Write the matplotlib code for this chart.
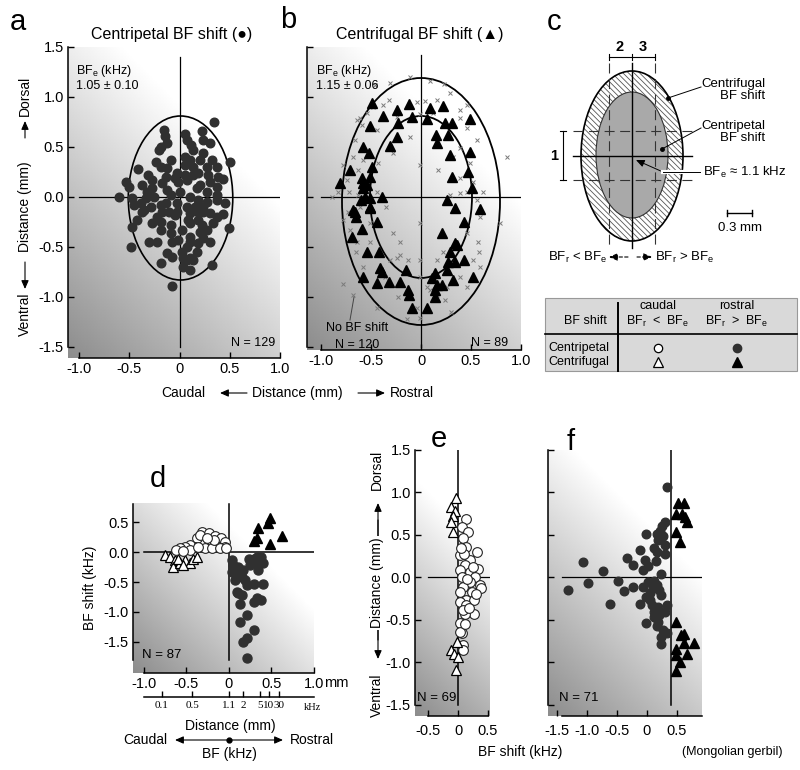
import numpy as np
import matplotlib
matplotlib.use('Agg')
import matplotlib.pyplot as plt
from matplotlib.patches import Ellipse, Rectangle

plt.rcParams['font.family'] = ['Liberation Sans', 'DejaVu Sans']
plt.rcParams['axes.unicode_minus'] = False
plt.rcParams['hatch.linewidth'] = 0.6

W, H = 800, 770

# ---------------- data ----------------
# a: centripetal shift, filled circles (x = rostro-caudal mm, y = dorso-ventral mm)
a_pts = [(0.34, 0.75), (-0.15, 0.67), (-0.14, 0.61), (0.05, 0.63), (0.22, 0.66), (0.07, 0.57), (0.11, 0.52),
         (0.23, 0.57), (0.30, 0.54), (-0.18, 0.50), (-0.20, 0.47), (-0.12, 0.54), (0.23, 0.44), (0.20, 0.37),
         (0.10, 0.37), (-0.23, 0.35), (-0.08, 0.37), (-0.41, 0.28), (-0.31, 0.22), (-0.18, 0.30), (-0.12, 0.29),
         (0.05, 0.32), (0.13, 0.30), (0.27, 0.30), (0.37, 0.30), (0.50, 0.35), (-0.03, 0.24), (-0.05, 0.19),
         (0.05, 0.22), (0.13, 0.22), (0.28, 0.22), (0.43, 0.18), (-0.53, 0.15), (-0.37, 0.12), (-0.17, 0.14),
         (-0.02, 0.15), (0.07, 0.17), (0.20, 0.12), (0.30, 0.15), (-0.27, 0.09), (-0.12, 0.07), (-0.08, 0.02),
         (0.17, 0.09), (0.27, 0.05), (0.37, 0.02), (0.37, 0.10), (-0.60, 0.00), (-0.47, -0.01), (-0.33, -0.01),
         (-0.25, 0.00), (0.10, 0.00), (0.18, -0.03), (0.27, -0.05), (-0.45, -0.08), (-0.35, -0.13), (-0.28, -0.10),
         (-0.18, -0.08), (-0.03, -0.06), (0.07, -0.10), (0.15, -0.10), (0.23, -0.10), (0.37, -0.03), (-0.37, -0.15),
         (-0.10, -0.15), (-0.05, -0.18), (0.10, -0.16), (0.18, -0.15), (0.30, -0.16), (0.43, -0.17), (-0.42, -0.23),
         (0.08, -0.23), (0.18, -0.23), (0.22, -0.28), (0.33, -0.26), (-0.47, -0.30), (-0.27, -0.26), (-0.18, -0.25),
         (-0.08, -0.28), (0.02, -0.33), (0.10, -0.26), (0.49, -0.31), (-0.18, -0.33), (-0.08, -0.36), (0.20, -0.35),
         (0.23, -0.41), (0.10, -0.40), (-0.07, -0.45), (-0.30, -0.45), (-0.22, -0.45), (0.10, -0.45), (0.18, -0.46),
         (0.30, -0.45), (-0.48, -0.50), (0.17, -0.55), (0.02, -0.55), (-0.12, -0.56), (-0.07, -0.60), (0.03, -0.61),
         (0.07, -0.63), (0.10, -0.61), (-0.18, -0.66), (0.03, -0.70), (0.10, -0.73), (0.32, -0.68), (-0.07, -0.89),
         (-0.50, 0.10), (-0.22, -0.20), (0.00, 0.05), (0.13, 0.47), (-0.13, -0.06), (0.27, -0.33), (0.37, -0.20),
         (-0.02, -0.43), (0.07, -0.50), (-0.13, 0.20), (-0.27, 0.17), (0.18, 0.24), (0.32, 0.37), (-0.03, -0.15),
         (0.13, -0.63), (0.23, -0.15), (-0.17, -0.15), (-0.38, -0.06), (-0.32, 0.05), (0.45, -0.06), (0.05, 0.40),
         (0.38, 0.20)]
a_ellipse = (0.01, -0.01, 1.04, 1.64)   # centre x, centre y, width, height

# b: centrifugal shift, filled triangles, and sites with no shift (crosses)
b_tri = [(-0.12, 0.93), (-0.24, 0.87), (-0.38, 0.81), (-0.49, 0.94), (-0.51, 0.71), (-0.23, 0.74), (-0.09, 0.80),
         (0.06, 0.78), (0.09, 0.89), (0.22, 0.91), (0.24, 0.74), (0.31, 0.74), (0.49, 0.78), (0.15, 0.62),
         (0.16, 0.54), (0.27, 0.62), (-0.24, 0.60), (-0.31, 0.51), (-0.58, 0.50), (-0.52, 0.44), (0.29, 0.42),
         (0.49, 0.45), (-0.71, 0.27), (-0.49, 0.30), (-0.59, 0.19), (-0.51, 0.20), (0.31, 0.20), (0.47, 0.25),
         (-0.81, 0.14), (-0.58, 0.09), (-0.54, 0.12), (0.51, 0.09), (-0.60, -0.03), (-0.56, 0.00), (-0.51, -0.01),
         (-0.39, 0.00), (0.26, -0.03), (0.34, -0.11), (0.59, -0.12), (-0.68, -0.13), (-0.51, -0.11), (-0.65, -0.20),
         (-0.44, -0.25), (0.43, -0.25), (-0.59, -0.32), (-0.69, -0.40), (0.21, -0.36), (0.34, -0.46), (0.29, -0.55),
         (0.36, -0.48), (-0.54, -0.55), (-0.42, -0.55), (0.43, -0.63), (0.27, -0.65), (0.34, -0.65), (0.26, -0.73),
         (-0.41, -0.71), (-0.39, -0.75), (-0.15, -0.73), (-0.58, -0.80), (-0.44, -0.86), (-0.32, -0.85),
         (-0.21, -0.85), (0.14, -0.76), (0.11, -0.81), (0.16, -0.88), (0.21, -0.88), (0.32, -0.83), (0.52, -0.80),
         (-0.13, -0.93), (0.14, -0.93), (-0.12, -0.98), (0.14, -1.00), (-0.09, -1.11), (0.06, -1.11), (-0.58, 0.14),
         (-0.66, -0.15), (-0.51, -0.10)]
b_none = [(-0.11, 1.20), (0.09, 1.16), (0.23, 1.13), (-0.31, 1.14), (-0.38, 0.92), (-0.32, 0.97), (-0.04, 0.95),
          (0.04, 0.96), (0.16, 0.97), (-0.01, 0.83), (0.12, 0.84), (0.39, 0.87), (0.46, 0.92), (0.46, 0.69),
          (0.56, 0.57), (0.39, 0.49), (0.32, 0.40), (0.86, 0.40), (-0.64, 0.77), (-0.59, 0.72), (-0.44, 0.67),
          (-0.66, 0.57), (-0.68, 0.40), (-0.58, 0.37), (-0.43, 0.34), (-0.28, 0.44), (-0.01, 0.32), (0.17, 0.27),
          (0.39, 0.19), (0.52, 0.15), (-0.78, 0.32), (-0.74, 0.17), (-0.89, 0.00), (-0.72, 0.05), (-0.63, 0.02),
          (-0.44, 0.05), (-0.61, -0.10), (-0.35, -0.10), (0.29, 0.02), (0.39, 0.04), (0.46, 0.05), (0.56, -0.03),
          (0.79, -0.26), (-0.01, -0.26), (-0.71, -0.33), (-0.51, -0.26), (-0.28, -0.36), (-0.64, -0.45),
          (-0.65, -0.55), (-0.51, -0.45), (0.57, -0.45), (0.46, -0.36), (-0.24, -0.61), (-0.31, -0.63),
          (-0.21, -0.58), (-0.13, -0.63), (0.16, -0.63), (0.22, -0.55), (0.52, -0.63), (0.58, -0.55), (-0.36, -0.80),
          (-0.01, -0.80), (0.06, -0.90), (0.26, -0.90), (0.09, -0.93), (0.46, -0.90), (-0.68, -0.98), (-0.78, -0.87),
          (-0.23, -1.00), (-0.04, -1.11), (-0.44, -1.11), (-0.14, -1.22), (0.24, -1.03), (-0.01, -1.21),
          (0.39, -0.80), (-0.58, -0.70), (-0.73, -0.15), (-0.78, -0.23), (-0.21, -0.45), (-0.01, -0.63),
          (-0.83, 0.05), (-0.54, 0.84), (-0.48, 0.90), (0.29, 1.04), (0.39, 0.79), (0.49, 0.34), (-0.63, 0.27),
          (0.59, -0.20), (0.62, 0.05), (-0.11, 0.60), (-0.24, 0.80), (0.16, -0.98), (-0.46, 1.12), (-0.61, 0.79),
          (0.59, -0.70), (0.30, -1.15)]
b_outer = (0.0, -0.045, 1.58, 2.47)
b_inner = (0.0, 0.0, 1.02, 1.62)

# d: BF shift (kHz) against rostro-caudal distance (mm)
d_open_circ = [(-0.32, 0.34), (-0.24, 0.31), (-0.16, 0.26), (-0.09, 0.23), (-0.05, 0.17), (-0.05, 0.09),
               (-0.13, 0.09), (-0.22, 0.14), (-0.30, 0.17), (-0.38, 0.23), (-0.34, 0.28), (-0.40, 0.09),
               (-0.46, 0.12), (-0.52, 0.09), (-0.58, 0.06), (-0.62, 0.03), (-0.28, 0.06), (-0.20, 0.06),
               (-0.11, 0.06), (-0.03, 0.06), (-0.18, 0.20), (-0.26, 0.23), (-0.46, 0.03), (-0.54, 0.01),
               (-0.36, 0.09)]
d_open_tri = [(-0.75, -0.05), (-0.69, -0.08), (-0.64, -0.13), (-0.66, -0.25), (-0.58, -0.19), (-0.52, -0.13),
              (-0.46, -0.19), (-0.42, -0.11), (-0.38, -0.08), (-0.60, -0.11), (-0.54, -0.22)]
d_fill_tri = [(0.48, 0.56), (0.46, 0.48), (0.34, 0.40), (0.33, 0.23), (0.29, 0.18), (0.62, 0.27), (0.48, 0.13)]
d_fill_circ = [(0.03, -0.13), (0.05, -0.22), (0.11, -0.25), (0.03, -0.33), (0.10, -0.33), (0.17, -0.30),
               (0.23, -0.11), (0.29, -0.12), (0.33, -0.08), (0.38, -0.08), (0.40, -0.19), (0.34, -0.19),
               (0.34, -0.30), (0.15, -0.41), (0.19, -0.47), (0.07, -0.47), (0.21, -0.55), (0.29, -0.54),
               (0.40, -0.54), (0.11, -0.69), (0.15, -0.72), (0.13, -0.86), (0.33, -0.77), (0.38, -0.80),
               (0.29, -0.83), (0.21, -1.05), (0.13, -1.16), (0.29, -1.30), (0.21, -1.43), (0.17, -1.50),
               (0.21, -1.76), (0.09, -0.66), (0.25, -0.22)]
khz_labels = ['0.1', '0.5', '1.1', '2', '5', '10', '30']
khz_pos_mm = [-0.79, -0.435, 0.0, 0.165, 0.365, 0.47, 0.59]

# e: BF shift (kHz) against dorso-ventral distance (mm)
e_open_tri = [(-0.04, 0.94), (-0.12, 0.83), (-0.05, 0.78), (-0.08, 0.72), (-0.11, 0.65), (-0.08, 0.53),
              (-0.01, -0.76), (-0.11, -0.86), (-0.06, -0.90), (0.00, -0.94), (-0.04, -1.09)]
e_open_circ = [(0.14, 0.69), (0.06, 0.59), (0.17, 0.53), (0.09, 0.46), (0.14, 0.36), (0.03, 0.26), (0.31, 0.30),
               (0.20, 0.20), (0.12, 0.14), (0.34, 0.10), (0.03, 0.08), (0.20, 0.06), (0.28, 0.00), (0.06, 0.00),
               (0.37, -0.09), (0.20, -0.06), (0.09, -0.11), (0.39, -0.13), (0.03, -0.17), (0.23, -0.17),
               (0.14, -0.27), (0.03, -0.29), (0.26, -0.27), (0.14, -0.33), (0.26, -0.43), (0.12, -0.43),
               (0.03, -0.54), (0.06, -0.66), (0.09, -0.80), (0.09, -0.86), (0.03, -0.64), (0.10, 0.28),
               (0.25, 0.12), (0.15, -0.02), (0.30, -0.20), (0.08, -0.38), (0.18, -0.36), (0.05, 0.35), (0.12, -0.55)]

# f: Mongolian gerbil
f_fill_circ = [(0.34, 1.06), (0.30, 0.65), (-0.01, 0.51), (0.22, 0.55), (0.17, 0.51), (0.27, 0.49), (0.19, 0.44),
               (0.30, 0.38), (-0.12, 0.32), (0.11, 0.34), (0.16, 0.30), (0.30, 0.28), (-0.34, 0.23), (-0.23, 0.15),
               (-0.03, 0.20), (0.15, 0.19), (-1.06, 0.18), (-0.06, 0.08), (0.02, 0.13), (-0.73, 0.07), (0.24, 0.04),
               (-0.48, -0.04), (-0.98, -0.07), (-1.31, -0.15), (-0.39, -0.16), (-0.23, -0.11), (-0.07, -0.11),
               (0.02, -0.06), (0.11, -0.04), (0.17, -0.09), (0.05, -0.19), (0.24, -0.21), (-0.62, -0.31),
               (-0.12, -0.31), (0.05, -0.27), (0.33, -0.33), (0.19, -0.35), (0.11, -0.41), (0.30, -0.41),
               (-0.01, -0.54), (0.19, -0.53), (0.16, -0.58), (0.27, -0.62), (0.33, -0.66), (0.24, -0.70),
               (0.24, -0.79), (0.11, -0.47), (-0.01, -0.23), (0.25, 0.60), (0.10, -0.13), (0.20, -0.15),
               (0.08, -0.33), (0.20, -0.45)]
f_fill_tri = [(0.52, 0.87), (0.61, 0.87), (0.49, 0.75), (0.58, 0.74), (0.63, 0.71), (0.66, 0.65), (0.49, 0.53),
              (0.55, 0.42), (0.48, -0.53), (0.56, -0.68), (0.61, -0.78), (0.78, -0.78), (0.48, -0.84), (0.67, -0.90),
              (0.49, -0.92), (0.55, -1.00), (0.48, -1.11), (0.62, -0.67)]
f_ref_x = 0.4

DARK = '#303030'
fig = plt.figure(figsize=(W / 100, H / 100), dpi=100)


def shade(ax, wpx, hpx, dark=0.55, d0=0.3):
    # grey wash: dark at lower left, white towards upper right
    u = np.linspace(0, 1, 200)
    v = np.linspace(1, 0, 200)
    U, V = np.meshgrid(u, v)
    d = ((1 - U) * wpx + (1 - V) * hpx) / (wpx + hpx)
    t = np.clip((d - d0) / (1 - d0), 0, 1)
    ax.imshow(1 - (1 - dark) * t, cmap='gray', vmin=0, vmax=1, extent=(0, 1, 0, 1),
              transform=ax.transAxes, aspect='auto', zorder=0, interpolation='bilinear')


def panel(box, xlim, ylim, xbounds, ybounds, xticks, xlabels, yticks, ylabels, xpad=3):
    l, t, r, b = box
    ax = fig.add_axes([l / W, 1 - b / H, (r - l) / W, (b - t) / H])
    shade(ax, r - l, b - t)
    ax.set_xlim(xlim)
    ax.set_ylim(ylim)
    ax.spines['top'].set_visible(False)
    ax.spines['right'].set_visible(False)
    ax.spines['left'].set_bounds(*ybounds)
    ax.spines['bottom'].set_bounds(*xbounds)
    for s in ['left', 'bottom']:
        ax.spines[s].set_linewidth(1.1)
    ax.set_xticks(xticks)
    ax.set_xticklabels(xlabels)
    ax.set_yticks(yticks)
    ax.set_yticklabels(ylabels)
    ax.tick_params(direction='in', length=4, width=1, labelsize=10.5, pad=3)
    ax.tick_params(axis='x', pad=xpad)
    return ax


def pts(p):
    arr = np.array(p)
    return arr[:, 0], arr[:, 1]


ylab15 = ['-1.5', '-1.0', '-0.5', '0.0', '0.5', '1.0', '1.5']
yt15 = [-1.5, -1.0, -0.5, 0.0, 0.5, 1.0, 1.5]
xt1 = [-1.0, -0.5, 0.0, 0.5, 1.0]
xl1 = ['-1.0', '-0.5', '0', '0.5', '1.0']

# ---- panel a ----
ax_a = panel((68, 47, 280, 358), (-1.11, 1.0), (-1.61, 1.5), (-1, 1), (-1.5, 1.5), xt1, xl1, yt15, ylab15)
ax_a.plot([0, 0], [-1.5, 1.4], color='k', lw=0.9, zorder=1)
ax_a.plot([-1.0, 1.0], [0, 0], color='k', lw=0.9, zorder=1)
ax_a.add_patch(Ellipse(a_ellipse[:2], a_ellipse[2], a_ellipse[3], fill=False, ec='k', lw=1.2, zorder=2))
x, y = pts(a_pts)
ax_a.plot(x, y, 'o', ms=6.2, mfc=DARK, mec=DARK, zorder=3)

# ---- panel b ----
ax_b = panel((307, 47, 521, 350), (-1.14, 1.0), (-1.53, 1.5), (-1, 1), (-1.5, 1.5), xt1, xl1, yt15, [''] * 7)
ax_b.plot([0, 0], [-1.5, 1.42], color='k', lw=0.9, zorder=1)
ax_b.plot([-1.0, 1.0], [0, 0], color='k', lw=0.9, zorder=1)
ax_b.add_patch(Ellipse(b_outer[:2], b_outer[2], b_outer[3], fill=False, ec='k', lw=1.3, zorder=2))
ax_b.add_patch(Ellipse(b_inner[:2], b_inner[2], b_inner[3], fill=False, ec='k', lw=1.3, zorder=2))
x, y = pts(b_none)
ax_b.plot(x, y, 'x', ms=3.5, mew=0.7, color='#7a7a7a', zorder=3)
x, y = pts(b_tri)
ax_b.plot(x, y, '^', ms=7, mfc='k', mec='k', zorder=4)
ax_b.plot([-0.71, -0.67], [-1.23, -1.0], color='#444444', lw=0.7, zorder=3)

# ---- panel d ----
ax_d = panel((133, 503, 314, 673), (-1.129, 1.0), (-2.017, 0.817), (-1, 1), (-1.8, 0.8), xt1, xl1,
             [-1.5, -1.0, -0.5, 0.0, 0.5], ['-1.5', '-1.0', '-0.5', '0.0', '0.5'])
ax_d.plot([-1.0, 1.0], [0, 0], color='k', lw=1.1, zorder=1)
ax_d.plot([0, 0], [-1.8, 0.8], color='k', lw=1.1, zorder=1)
x, y = pts(d_open_tri)
ax_d.plot(x, y, '^', ms=7, mfc='white', mec='k', mew=0.9, zorder=3)
x, y = pts(d_open_circ)
ax_d.plot(x, y, 'o', ms=7, mfc='white', mec='#222222', mew=0.8, zorder=3)
x, y = pts(d_fill_circ)
ax_d.plot(x, y, 'o', ms=6.5, mfc=DARK, mec=DARK, zorder=3)
x, y = pts(d_fill_tri)
ax_d.plot(x, y, '^', ms=7, mfc='k', mec='k', zorder=3)

# second scale of panel d: BF in kHz
ax_k = fig.add_axes([133 / W, 1 - 697 / H, 181 / W, 6 / H])
ax_k.set_xlim(-1.129, 1.0)
ax_k.set_ylim(0, 1)
for s in ['top', 'right', 'left']:
    ax_k.spines[s].set_visible(False)
ax_k.spines['bottom'].set_bounds(-1.0, 1.0)
ax_k.spines['bottom'].set_linewidth(1.1)
ax_k.patch.set_visible(False)
ax_k.set_yticks([])
ax_k.set_xticks(khz_pos_mm)
ax_k.set_xticklabels(khz_labels, fontsize=8, family='Liberation Serif')
ax_k.tick_params(axis='x', direction='in', length=4, width=1, pad=3)

# ---- panel e ----
ax_e = panel((415, 450, 490, 716), (-0.717, 0.533), (-1.635, 1.494), (-0.5, 0.5), (-1.5, 1.5),
             [-0.5, 0.0, 0.5], ['-0.5', '0', '0.5'], yt15, ylab15, xpad=6)
ax_e.plot([0, 0], [-1.5, 1.5], color='k', lw=1.1, zorder=1)
ax_e.plot([-0.5, 0.53], [0, 0], color='k', lw=0.9, zorder=1)
x, y = pts(e_open_circ)
ax_e.plot(x, y, 'o', ms=7, mfc='white', mec='#222222', mew=0.8, zorder=3)
x, y = pts(e_open_tri)
ax_e.plot(x, y, '^', ms=7, mfc='white', mec='k', mew=0.9, zorder=3)

# ---- panel f ----
ax_f = panel((548, 450, 702, 716), (-1.65, 0.917), (-1.635, 1.494), (-1.42, 0.92), (-1.5, 1.5),
             [-1.5, -1.0, -0.5, 0.0, 0.5], ['-1.5', '-1.0', '-0.5', '0', '0.5'], yt15, [''] * 7, xpad=6)
ax_f.plot([f_ref_x, f_ref_x], [-1.5, 1.5], color='k', lw=1.1, zorder=1)
ax_f.plot([-1.42, 0.92], [0, 0], color='k', lw=0.9, zorder=1)
x, y = pts(f_fill_circ)
ax_f.plot(x, y, 'o', ms=6.2, mfc=DARK, mec=DARK, zorder=3)
x, y = pts(f_fill_tri)
ax_f.plot(x, y, '^', ms=7, mfc='k', mec='k', zorder=3)

# ---------------- overlay in pixel units: labels and schematic c ----------------
ov = fig.add_axes([0, 0, 1, 1])
ov.set_xlim(0, W)
ov.set_ylim(H, 0)
ov.axis('off')
arrow_kw = dict(arrowstyle='-|>,head_length=0.5,head_width=0.22', color='k', lw=0.8, shrinkA=0, shrinkB=0)


def txt(x, y, s, size=10, **kw):
    kw.setdefault('ha', 'center')
    kw.setdefault('va', 'center')
    ov.text(x, y, s, fontsize=size, **kw)


def arrow(x0, y0, x1, y1, **kw):
    props = dict(arrow_kw)
    props.update(kw)
    ov.annotate('', xy=(x1, y1), xytext=(x0, y0), arrowprops=props)


sub = lambda s: '$_\\mathregular{' + s + '}$'

# panel letters
for lab, px, py in [('a', 10, 30), ('b', 280, 28), ('c', 547, 30), ('d', 150, 487), ('e', 431, 447), ('f', 567, 450)]:
    txt(px, py, lab, size=21, ha='left', va='baseline')

# panel a, b texts
txt(172, 34, 'Centripetal BF shift (●)', size=11.5)
txt(420, 34, 'Centrifugal BF shift (▲)', size=11.5)
txt(76, 71, 'BF' + sub('e') + ' (kHz)', size=9, ha='left')
txt(76, 86, '1.05 ± 0.10', size=9, ha='left')
txt(316, 71, 'BF' + sub('e') + ' (kHz)', size=9, ha='left')
txt(316, 86, '1.15 ± 0.06', size=9, ha='left')
txt(275, 343, 'N = 129', size=9, ha='right')
txt(508, 343, 'N = 89', size=9, ha='right')
txt(357, 328, 'No BF shift', size=9)
txt(357, 345, 'N = 120', size=9)

# a: vertical axis label
txt(25, 96, 'Dorsal', rotation=90)
arrow(25, 138, 25, 121)
txt(25, 207, 'Distance (mm)', rotation=90)
arrow(25, 262, 25, 289)
txt(25, 314, 'Ventral', rotation=90)

# a/b: horizontal axis label
txt(183, 393, 'Caudal')
arrow(247, 393, 220, 393)
txt(297, 393, 'Distance (mm)')
arrow(358, 393, 385, 393)
txt(412, 393, 'Rostral')

# d texts
txt(90, 588, 'BF shift (kHz)', rotation=90)
txt(142, 655, 'N = 87', size=9.5, ha='left')
txt(324, 683, 'mm', size=10.5, ha='left')
txt(312, 707, 'kHz', size=7.5, family='Liberation Serif')
txt(230, 726, 'Distance (mm)')
txt(145, 740, 'Caudal')
txt(312, 740, 'Rostral')
arrow(229, 740, 175, 740)
arrow(229, 740, 283, 740)
ov.plot(229, 740, 'o', ms=3.5, color='k')
txt(229, 754, 'BF (kHz)')

# e, f texts
txt(377, 470, 'Dorsal', rotation=90)
arrow(378, 640, 378, 503)
arrow(378, 520, 378, 659)
txt(377, 583, 'Distance (mm)', rotation=90, bbox=dict(fc='white', ec='none', pad=1))
txt(377, 695, 'Ventral', rotation=90)
txt(417, 698, 'N = 69', size=9.5, ha='left')
txt(559, 698, 'N = 71', size=9.5, ha='left')
txt(520, 752, 'BF shift (kHz)')
txt(732, 752, '(Mongolian gerbil)', size=9)

# ---- panel c schematic ----
cx, cy = 632, 156
outer = Ellipse((cx, cy), 102, 170, fc='white', ec='#555555', hatch='\\\\\\\\\\\\', lw=0, zorder=1)
ov.add_patch(outer)
ov.add_patch(Ellipse((cx, cy), 102, 170, fill=False, ec='k', lw=1.2, zorder=2))
ov.add_patch(Ellipse((cx, cy - 1), 72, 126, fc='#a9a9a9', ec='#333333', lw=0.8, zorder=2))
ov.plot([cx, cx], [63, 248], color='k', lw=1.0, zorder=3)
ov.plot([573, 692], [cy, cy], color='k', lw=1.0, zorder=3)
for xx in [609, 655]:
    ov.plot([xx, xx], [63, 248], color='#333333', lw=0.8, dashes=(9, 5), zorder=3)
for yy in [131, 180]:
    ov.plot([573, 692], [yy, yy], color='#333333', lw=0.8, dashes=(9, 5), zorder=3)
# dimension marks 2, 3 and 1
ov.plot([609, 655], [57, 57], color='k', lw=0.8)
for xx in [609, 632, 655]:
    ov.plot([xx, xx], [54, 60], color='k', lw=0.8)
txt(620, 47, '2', size=10.5, weight='bold')
txt(643, 47, '3', size=10.5, weight='bold')
ov.plot([563, 563], [131, 180], color='k', lw=0.8)
for yy in [131, 180]:
    ov.plot([560, 566], [yy, yy], color='k', lw=0.8)
txt(554, 156, '1', size=10.5, weight='bold')
# leaders
txt(765, 90, 'Centrifugal\nBF shift', size=9.5, ha='right', multialignment='right', linespacing=1.0)
ov.plot([668, 701], [98, 87], color='k', lw=0.7, zorder=4)
ov.plot(668, 98, 'o', ms=2.5, color='k', zorder=4)
txt(765, 132, 'Centripetal\nBF shift', size=9.5, ha='right', multialignment='right', linespacing=1.0)
ov.plot([662, 701], [149, 128], color='k', lw=0.7, zorder=4)
ov.plot(662, 149, 'o', ms=2.5, color='k', zorder=4)
ov.plot([663, 700], [172, 172], color='white', lw=3, zorder=4)
ov.plot([663, 700], [172, 172], color='k', lw=0.7, zorder=5)
arrow(663, 172, 636, 160, lw=0.7)
txt(703, 172, 'BF' + sub('e') + ' ≈ 1.1 kHz', size=9.5, ha='left')
# scale bar
ov.plot([727, 752], [213, 213], color='k', lw=1.0)
for xx in [727, 752]:
    ov.plot([xx, xx], [210, 216], color='k', lw=1.0)
txt(740, 228, '0.3 mm', size=9.5)
# bottom arrows
txt(607, 257, 'BF' + sub('r') + ' < BF' + sub('e'), size=9.5, ha='right')
arrow(628, 257, 609, 257, linestyle=(0, (3, 2)))
arrow(637, 257, 652, 257, linestyle=(0, (3, 2)))
txt(655, 257, 'BF' + sub('r') + ' > BF' + sub('e'), size=9.5, ha='left')

# ---- legend table ----
ov.add_patch(Rectangle((545, 298), 252, 73, fc='#d9d9d9', ec='#999999', lw=0.8, zorder=1))
ov.plot([618, 618], [303, 371], color='k', lw=1.4, zorder=2)
ov.plot([545, 797], [334, 334], color='k', lw=1.2, zorder=2)
txt(585, 321, 'BF shift', size=9)
txt(658, 306, 'caudal', size=9)
txt(658, 321, 'BF' + sub('r') + '  <  BF' + sub('e'), size=9)
txt(737, 306, 'rostral', size=9)
txt(737, 321, 'BF' + sub('r') + '  >  BF' + sub('e'), size=9)
txt(548, 348, 'Centripetal', size=9, ha='left')
txt(548, 362, 'Centrifugal', size=9, ha='left')
ov.plot(658, 348, 'o', ms=6, mfc='white', mec='k', mew=0.9, zorder=3)
ov.plot(737, 348, 'o', ms=6, mfc=DARK, mec=DARK, zorder=3)
ov.plot(658, 362, '^', ms=6.5, mfc='white', mec='k', mew=0.9, zorder=3)
ov.plot(737, 362, '^', ms=6.5, mfc='k', mec='k', zorder=3)

fig.savefig('out.png', dpi=100)
